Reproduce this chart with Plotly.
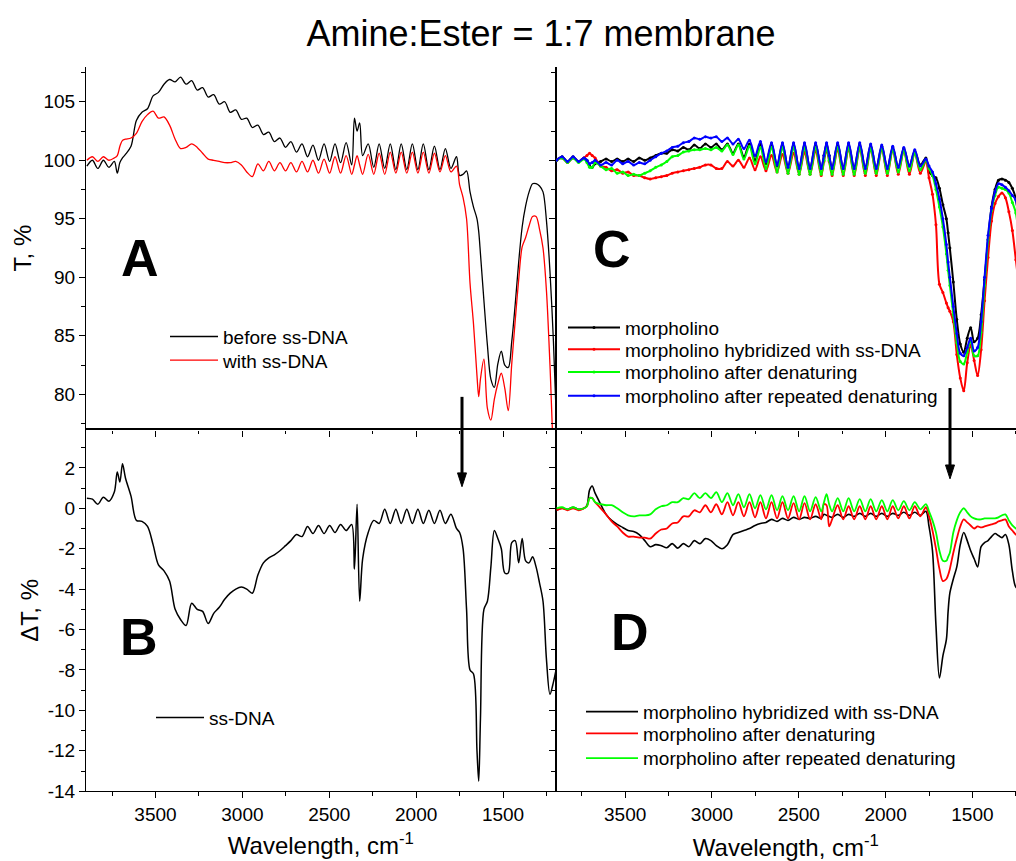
import plotly.graph_objects as go

# ---------------- data (wavenumber grid, cm-1) ----------------
W = [3895, 3863, 3832, 3800, 3768, 3737, 3720, 3705, 3690, 3673,
     3641, 3610, 3578, 3546, 3514, 3483, 3451, 3419, 3387, 3356,
     3324, 3292, 3260, 3229, 3197, 3165, 3133, 3102, 3070, 3038,
     3006, 2975, 2943, 2911, 2879, 2848, 2816, 2784, 2752, 2721,
     2689, 2657, 2625, 2594, 2562, 2530, 2498, 2467, 2435, 2403,
     2371, 2355, 2340, 2325, 2308, 2276, 2244, 2213, 2181, 2149,
     2117, 2086, 2054, 2022, 1990, 1959, 1927, 1895, 1863, 1832,
     1800, 1768, 1750, 1730, 1710, 1690, 1670, 1650, 1640, 1630, 1610,
     1590, 1570, 1550, 1530, 1510, 1490, 1470, 1450, 1430, 1410,
     1390, 1370, 1350, 1330, 1310, 1290, 1270, 1250, 1230, 1210, 1195]

# Panel A: T, %
A_before = [99.5, 100.0, 99.3, 100.0, 99.4, 99.9, 98.9, 99.8, 100.2, 100.5,
            101.2, 103.4, 104.1, 104.4, 105.5, 105.8, 106.5, 106.9, 106.7, 107.1,
            106.5, 106.8, 106.0, 106.2, 105.4, 105.6, 104.8, 105.0, 104.1, 104.3,
            103.5, 103.6, 102.8, 103.0, 102.2, 102.4, 101.6, 101.9, 101.1, 101.6,
            100.7, 101.4, 100.3, 101.3, 100.0, 101.4, 99.9, 101.4, 99.8, 101.5,
            99.6, 103.6, 102.5, 103.2, 100.4, 101.4, 99.4, 101.4, 99.3, 101.4,
            99.2, 101.4, 99.2, 101.4, 99.2, 101.4, 99.2, 101.2, 99.2, 101.0,
            99.3, 100.3, 98.7, 98.8, 99.1, 97.3, 96.0, 95.0, 93.9, 92.0, 88.0,
            84.2, 81.3, 80.6, 82.6, 83.7, 82.5, 82.3, 84.5, 87.7, 91.3,
            94.3, 96.1, 97.3, 98.0, 98.0, 97.8, 97.3, 94.8, 90.5, 84.5, 78.5]
A_with = [100.0, 100.3, 99.9, 100.3, 100.0, 100.2, 100.4, 101.2, 101.7, 101.8,
          101.9, 102.3, 103.3, 103.9, 104.2, 103.6, 103.7, 103.0, 101.8, 101.0,
          101.1, 101.4, 101.1, 100.6, 100.1, 100.0, 99.9, 99.8, 99.8, 99.9,
          99.6, 99.0, 98.6, 99.7, 99.1, 99.9, 99.1, 99.8, 99.1, 99.8,
          99.0, 99.9, 99.0, 100.0, 98.9, 100.1, 98.9, 100.3, 98.9, 100.4,
          98.8, 99.6, 100.4, 99.6, 98.8, 100.5, 98.8, 100.6, 98.8, 100.7,
          98.9, 100.7, 98.9, 100.7, 98.9, 100.7, 98.9, 100.6, 99.0, 100.4,
          99.0, 99.5, 97.9, 96.8, 95.0, 89.5, 86.0, 81.6, 79.8, 81.3, 83.0,
          78.8, 77.8, 79.6, 80.9, 81.8, 80.5, 78.6, 82.6, 86.3, 89.8,
          92.6, 93.4, 94.4, 95.2, 95.2, 94.1, 92.5, 88.8, 82.5, 75.0, 72.0]

# Panel B: delta T, %
B_ssDNA = [0.5, 0.45, 0.2, 0.55, 0.35, 0.8, 1.8, 1.3, 2.2, 1.5,
           0.6, -0.6, -0.65, -0.9, -1.8, -2.8, -3.1, -3.6, -5.0, -5.5,
           -5.8, -4.7, -5.0, -5.1, -5.7, -5.2, -4.9, -4.5, -4.2, -4.0,
           -3.9, -4.0, -4.2, -3.3, -2.7, -2.45, -2.3, -2.1, -1.85, -1.6,
           -1.3, -1.4, -0.9, -1.25, -0.85, -1.25, -0.85, -1.2, -0.8, -1.1,
           -0.8, -3.0, 0.2, -4.6, -2.5, -1.2, -0.6, -0.75, -0.05, -0.75,
           -0.05, -0.75, -0.05, -0.75, -0.05, -0.75, -0.1, -0.75, -0.1, -0.75,
           -0.3, -1.0, -1.2, -2.0, -5.0, -8.0, -8.2, -12.0, -13.5, -10.4, -5.0,
           -4.6, -2.9, -1.1, -1.5, -2.0, -3.2, -3.2, -1.7, -1.6, -2.7,
           -1.5, -2.6, -2.7, -2.4, -2.9, -3.7, -4.6, -7.5, -9.2, -8.6, -8.0]

# Panel C: T, %
C_morph = [100.0, 100.3, 99.9, 100.3, 99.9, 100.2, 100.0, 99.5, 99.4, 99.7,
           99.9, 100.1, 99.9, 100.1, 99.9, 100.1, 99.9, 100.2, 100.0, 100.2,
           100.4, 100.6, 100.6, 100.9, 100.8, 101.1, 100.9, 101.3, 101.0, 101.4,
           101.1, 101.4, 100.9, 101.4, 100.6, 101.4, 100.3, 101.4, 100.0, 101.4,
           99.7, 101.4, 99.5, 101.4, 99.4, 101.4, 99.3, 101.4, 99.3, 101.4,
           99.3, 100.4, 101.4, 100.4, 99.3, 101.4, 99.3, 101.4, 99.3, 101.4,
           99.3, 101.3, 99.3, 101.2, 99.3, 101.1, 99.4, 101.0, 99.5, 100.8,
           99.6, 100.2, 99.0, 98.7, 98.5, 97.6, 96.2, 95.0, 93.8, 92.5, 89.6,
           86.4, 84.3, 83.6, 84.8, 85.7, 84.5, 84.8, 86.8, 89.8, 93.2,
           96.0, 97.5, 98.3, 98.4, 98.3, 98.1, 97.6, 96.7, 94.0, 91.0, 89.0]
C_hybr = [100.0, 100.2, 99.8, 100.2, 99.9, 100.2, 100.4, 100.6, 100.4, 100.2,
          99.5, 99.4, 99.1, 99.2, 98.9, 99.0, 98.7, 98.7, 98.5, 98.4,
          98.5, 98.6, 98.7, 98.9, 99.0, 99.1, 99.2, 99.3, 99.4, 99.6,
          99.6, 99.3, 99.3, 99.9, 99.5, 100.0, 99.4, 100.2, 99.2, 100.3,
          99.1, 100.4, 99.0, 100.5, 98.9, 100.6, 98.8, 100.7, 98.8, 100.8,
          98.7, 99.9, 100.9, 99.9, 98.7, 100.9, 98.7, 101.0, 98.7, 101.0,
          98.7, 101.0, 98.7, 101.0, 98.7, 100.9, 98.8, 100.8, 98.8, 100.6,
          98.9, 99.9, 98.5, 97.1, 94.5, 89.4, 88.7, 87.8, 87.4, 87.1, 86.2,
          83.4, 81.4, 80.3, 82.7, 84.2, 82.9, 81.6, 83.8, 88.0, 91.7,
          94.8, 96.3, 96.9, 97.2, 96.8, 95.6, 94.0, 91.5, 89.0, 87.0, 86.0]
C_den = [100.0, 100.2, 99.8, 100.2, 99.8, 100.1, 99.8, 99.4, 99.4, 99.8,
         99.5, 99.2, 99.3, 98.9, 99.0, 98.7, 98.8, 98.7, 98.9, 99.1,
         99.4, 99.6, 99.9, 100.3, 100.4, 100.7, 100.8, 100.9, 100.9, 101.0,
         100.9, 101.1, 100.8, 101.3, 100.5, 101.3, 100.1, 101.2, 99.7, 101.1,
         99.3, 101.1, 99.0, 101.1, 98.9, 101.1, 98.8, 101.1, 98.8, 101.1,
         98.8, 100.0, 101.1, 100.0, 98.8, 101.1, 98.8, 101.1, 98.8, 101.1,
         98.9, 101.0, 98.9, 101.0, 98.9, 100.9, 99.0, 100.8, 99.1, 100.6,
         99.2, 100.0, 99.3, 98.7, 97.5, 96.0, 94.3, 92.0, 90.6, 89.3, 86.8,
         84.4, 82.8, 82.6, 83.6, 84.6, 83.3, 83.3, 85.3, 89.3, 93.2,
         95.7, 97.0, 97.7, 97.6, 97.5, 97.2, 96.4, 95.5, 93.0, 90.0, 88.0]
C_rep = [100.0, 100.3, 99.9, 100.3, 99.9, 100.2, 100.0, 99.7, 99.8, 100.0,
         99.6, 99.8, 99.6, 100.0, 99.7, 99.9, 99.6, 99.8, 99.7, 100.0,
         100.3, 100.6, 100.8, 101.1, 101.2, 101.5, 101.6, 101.9, 101.8, 102.0,
         101.9, 102.0, 101.6, 101.9, 101.4, 101.8, 101.0, 101.7, 100.4, 101.6,
         99.9, 101.5, 99.6, 101.5, 99.4, 101.5, 99.3, 101.5, 99.3, 101.5,
         99.3, 100.4, 101.5, 100.4, 99.3, 101.5, 99.3, 101.5, 99.3, 101.5,
         99.3, 101.4, 99.3, 101.3, 99.3, 101.2, 99.4, 101.1, 99.5, 100.9,
         99.5, 100.1, 99.5, 99.0, 98.0, 96.7, 95.0, 92.8, 91.3, 90.0, 87.5,
         85.2, 83.5, 83.3, 84.0, 84.8, 83.7, 84.0, 86.2, 90.0, 93.6,
         95.9, 97.3, 98.0, 97.9, 97.7, 97.4, 97.0, 96.6, 94.0, 91.0, 89.0]

# Panel D: delta T, %
D_hybr = [-0.1, 0.0, -0.05, 0.05, -0.05, 0.0, 0.15, 0.9, 1.1, 0.75,
          0.2, -0.3, -0.6, -0.8, -0.95, -1.1, -1.15, -1.3, -1.6, -1.9,
          -1.8, -1.85, -1.95, -1.75, -1.97, -1.75, -1.9, -1.6, -1.75, -1.5,
          -1.6, -1.85, -2.0, -1.8, -1.3, -1.2, -1.1, -1.0, -0.85, -0.75,
          -0.7, -0.55, -0.65, -0.5, -0.6, -0.45, -0.55, -0.45, -0.5, -0.4,
          -0.5, -0.3, -0.35, -0.4, -0.45, -0.3, -0.45, -0.3, -0.4, -0.25,
          -0.4, -0.25, -0.4, -0.25, -0.4, -0.25, -0.35, -0.2, -0.35, -0.2,
          -0.35, -0.15, -0.9, -2.1, -5.8, -8.4, -7.3, -6.5, -5.1, -4.2, -3.5,
          -2.9, -1.8, -1.2, -1.6, -2.1, -2.5, -2.9, -1.9, -1.7, -1.6,
          -1.4, -1.25, -1.35, -1.45, -1.3, -1.8, -3.1, -3.9, -4.0, -4.0, -4.0]
D_den = [-0.1, 0.0, -0.1, 0.0, -0.1, 0.0, 0.1, 0.5, 0.5, 0.3,
         0.0, -0.3, -0.65, -0.9, -1.2, -1.4, -1.4, -1.45, -1.45, -1.5,
         -1.25, -1.05, -1.0, -0.75, -0.7, -0.4, -0.4, -0.1, -0.2, 0.15,
         -0.2, 0.2, -0.3, 0.3, -0.35, 0.3, -0.4, 0.3, -0.45, 0.3,
         -0.5, 0.3, -0.5, 0.3, -0.5, 0.25, -0.55, 0.25, -0.55, 0.2,
         -0.55, 0.2, 0.15, -0.9, -0.55, 0.15, -0.55, 0.1, -0.55, 0.1,
         -0.55, 0.1, -0.55, 0.1, -0.55, 0.1, -0.5, 0.1, -0.5, 0.1,
         -0.4, 0.05, -0.4, -1.1, -2.0, -3.0, -3.6, -3.5, -3.3, -3.0, -2.2,
         -1.5, -0.9, -0.55, -0.7, -0.85, -1.0, -0.9, -0.95, -0.9, -0.85,
         -0.8, -0.75, -0.65, -0.6, -0.55, -0.9, -1.1, -1.3, -1.4, -1.4, -1.4]
D_rep = [0.0, 0.05, -0.05, 0.05, -0.05, 0.0, 0.1, 0.5, 0.5, 0.3,
         0.2, 0.15, 0.15, 0.0, -0.2, -0.35, -0.4, -0.35, -0.35, -0.3,
         -0.05, 0.1, 0.15, 0.3, 0.3, 0.5, 0.45, 0.75, 0.5, 0.75,
         0.5, 0.8, 0.3, 0.75, 0.15, 0.7, 0.05, 0.7, 0.0, 0.65,
         -0.05, 0.65, -0.1, 0.6, -0.1, 0.6, -0.15, 0.6, -0.15, 0.55,
         -0.15, 0.3, 0.7, 0.2, -0.15, 0.5, -0.15, 0.5, -0.15, 0.45,
         -0.15, 0.45, -0.15, 0.4, -0.15, 0.4, -0.1, 0.35, -0.1, 0.3,
         -0.05, 0.2, -0.15, -0.6, -1.2, -2.1, -2.6, -2.6, -2.4, -2.2, -1.2,
         -0.6, -0.2, 0.0, -0.2, -0.4, -0.5, -0.55, -0.55, -0.5, -0.5,
         -0.5, -0.5, -0.45, -0.35, -0.3, -0.6, -0.85, -1.0, -1.1, -1.1, -1.1]

X_TICKS = [3500, 3000, 2500, 2000, 1500]
Y_TICKS_B = [-14, -12, -10, -8, -6, -4, -2, 0, 2]
Y_TICKTEXT_B = ["-14", "-12", "-10", "-8", "-6", "-4", "-2", "0", "2"]
TITLE = "Amine:Ester = 1:7 membrane"

for s in (A_before, A_with, B_ssDNA, C_morph, C_hybr, C_den, C_rep, D_hybr, D_den, D_rep):
    assert len(s) == len(W), len(s)

# ---------------- figure ----------------
FONT = "Arial, Liberation Sans, sans-serif"
BLACK, RED, GREEN, BLUE = "#000000", "#ff0000", "#00ff00", "#0000ff"
FW, FH = 1016, 861   # reference frame used to place things (as fractions)

fig = go.Figure()

LEG_ROWS = []  # (legend id, line start x px, row y px, itemwidth)

def line(x, y, name, color, xa, ya, width, legx, legy, iw, markers=False):
    lid = "legend" if not LEG_ROWS else "legend%d" % (len(LEG_ROWS) + 1)
    LEG_ROWS.append((lid, legx, legy, iw))
    fig.add_trace(go.Scatter(
        x=x, y=y, name=name, xaxis=xa, yaxis=ya, legend=lid,
        mode="lines+markers" if markers else "lines",
        line=dict(color=color, width=width, shape="spline", smoothing=0.9),
        marker=dict(size=3, color=color) if markers else None,
    ))

line(W, A_before, "before ss-DNA", BLACK, "x", "y", 1.3, 170, 341, 48)
line(W, A_with, "with ss-DNA", RED, "x", "y", 1.3, 170, 365, 48)
line(W, B_ssDNA, "ss-DNA", BLACK, "x3", "y3", 1.5, 156, 727, 48)
line(W, C_morph, "morpholino", BLACK, "x2", "y2", 2, 568, 332, 52, True)
line(W, C_hybr, "morpholino hybridized with ss-DNA", RED, "x2", "y2", 2, 568, 354, 52, True)
line(W, C_den, "morpholino after denaturing", GREEN, "x2", "y2", 2, 568, 377, 52, True)
line(W, C_rep, "morpholino after repeated denaturing", BLUE, "x2", "y2", 2, 568, 401, 52, True)
line(W, D_hybr, "morpholino hybridized with ss-DNA", BLACK, "x4", "y4", 1.6, 586, 721, 52)
line(W, D_den, "morpholino after denaturing", RED, "x4", "y4", 1.8, 586, 743, 52)
line(W, D_rep, "morpholino after repeated denaturing", GREEN, "x4", "y4", 1.8, 586, 768, 52)

Y_TOP, Y_MID, Y_BOT = 67.5, 435.0, 801.5
XL = [86 / FW, 555.7 / FW]
XR = [555.7 / FW, 1.0]
YT = [1 - Y_MID / FH, 1 - Y_TOP / FH]
YB = [1 - Y_BOT / FH, 1 - Y_MID / FH]

tickfont = dict(family=FONT, size=19, color="black")
titlefont = dict(family=FONT, size=24, color="black")
common = dict(showline=True, linecolor="black", linewidth=1.2, showgrid=False,
              zeroline=False, tickcolor="black", tickwidth=1.2, ticklen=6,
              tickfont=tickfont)

def minor(direction, dtick):
    return dict(ticks=direction, ticklen=3.5, tickcolor="black", tickwidth=1.2,
                tickmode="linear", dtick=dtick, tick0=0, showgrid=False)

def xax(domain, anchor, rng, labels, mirror, title=None, standoff=8):
    d = dict(common, domain=domain, anchor=anchor, range=rng, ticks="outside",
             tickmode="array", tickvals=X_TICKS, showticklabels=labels,
             mirror=mirror, minor=minor("outside", 250))
    if title:
        d["title"] = dict(text=title, font=titlefont, standoff=standoff)
    return d

def yax(domain, anchor, rng, dtick, labels, mirror, title=None, standoff=8,
        tickvals=None, ticktext=None):
    d = dict(common, domain=domain, anchor=anchor, range=rng, ticks="outside",
             showticklabels=labels, mirror=mirror, minor=minor("outside", dtick / 2))
    if tickvals is not None:
        d.update(tickmode="array", tickvals=tickvals, ticktext=ticktext)
    else:
        d.update(dtick=dtick, tick0=0)
    if title:
        d["title"] = dict(text=title, font=titlefont, standoff=standoff)
    return d

XRANGE_L = [3900, 1197]
XRANGE_R = [3900, 1249]
YRANGE_T = [77.0, 108.0]
YRANGE_B = [-14.0, 3.9]
WL = "Wavelength, cm<sup>-1</sup>"

fig.update_layout(
    autosize=True,
    margin=dict(l=0, r=0, t=0, b=0),
    paper_bgcolor="white", plot_bgcolor="white",
    font=dict(family=FONT, color="black"),
    title=dict(text=TITLE, x=541 / FW, xanchor="center", y=1 - 33 / FH,
               yanchor="middle", yref="container",
               font=dict(family=FONT, size=36, color="black")),
    xaxis=xax(XL, "y", XRANGE_L, False, False),
    yaxis=yax(YT, "x", YRANGE_T, 5, True, True, "T, %", standoff=4),
    xaxis2=xax(XR, "y2", XRANGE_R, False, False),
    yaxis2=yax(YT, "x2", YRANGE_T, 5, False, False),
    xaxis3=xax(XL, "y3", XRANGE_L, True, True, WL, 13),
    yaxis3=yax(YB, "x3", YRANGE_B, 2, True, True, "\u0394T, %", standoff=2,
               tickvals=Y_TICKS_B, ticktext=Y_TICKTEXT_B),
    xaxis4=xax(XR, "y4", XRANGE_R, True, True, WL, 16),
    yaxis4=yax(YB, "x4", YRANGE_B, 2, False, False),
    # top frames with inward ticks
    xaxis5=dict(common, overlaying="x", side="top", anchor="y", range=XRANGE_L,
                ticks="inside", tickmode="array", tickvals=X_TICKS,
                showticklabels=False, minor=minor("inside", 250)),
    xaxis6=dict(common, overlaying="x2", side="top", anchor="y2", range=XRANGE_R,
                ticks="inside", tickmode="array", tickvals=X_TICKS,
                showticklabels=False, minor=minor("inside", 250)),
    showlegend=True,
)

legfont = dict(family=FONT, size=19, color="black")
for lid, lx, ly, iw in LEG_ROWS:
    fig.update_layout({lid: dict(x=(lx - 5) / FW, y=1 - ly / FH, xanchor="left",
                                 yanchor="middle", bgcolor="rgba(0,0,0,0)",
                                 borderwidth=0, font=legfont, itemwidth=iw)})

# panel letters
for txt, xp, yp in (("A", 140, 261), ("B", 139, 645), ("C", 612, 252), ("D", 630, 640)):
    fig.add_annotation(text="<b>%s</b>" % txt, x=xp / FW, y=1 - yp / FH,
                       xref="paper", yref="paper", showarrow=False,
                       xanchor="center", yanchor="middle",
                       font=dict(family=FONT, size=52, color="black"))

# arrows (shaft + filled head)
for xp, ytail, yhead in ((462, 402, 493), (950, 393, 485)):
    xs = xp / FW
    ybase = yhead - 14
    fig.add_shape(type="line", xref="paper", yref="paper",
                  x0=xs, x1=xs, y0=1 - ytail / FH, y1=1 - (ybase + 1) / FH,
                  line=dict(color="black", width=3))
    fig.add_shape(type="path", xref="paper", yref="paper",
                  path="M %.5f,%.5f L %.5f,%.5f L %.5f,%.5f Z" % (
                      (xp - 4.5) / FW, 1 - ybase / FH,
                      (xp + 4.5) / FW, 1 - ybase / FH,
                      xs, 1 - yhead / FH),
                  fillcolor="black", line=dict(color="black", width=1))

fig.write_html(
    "out.html",
    default_width="100vw",
    default_height="100vh",
    config={"displayModeBar": False, "responsive": True},
    post_script=("document.documentElement.style.margin='0';"
                 "document.body.style.margin='0';document.body.style.padding='0';"
                 "document.documentElement.style.overflow='hidden';"
                 "document.body.style.overflow='hidden';"),
)
